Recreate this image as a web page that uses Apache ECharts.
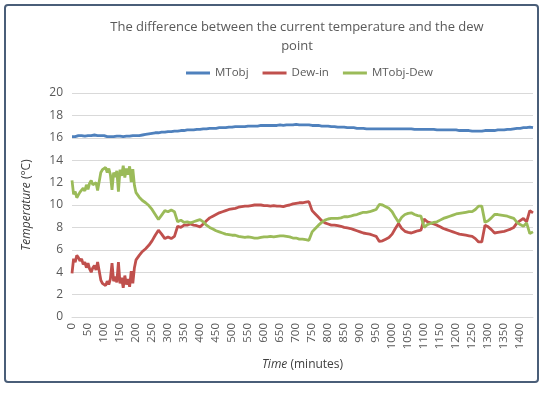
<!DOCTYPE html>
<html><head><meta charset="utf-8">
<script src="https://cdn.jsdelivr.net/npm/echarts@6/dist/echarts.min.js"></script>
<style>html,body{margin:0;padding:0;background:#fff}#c{width:550px;height:394px}</style>
</head><body><div id="c"></div>
<script>
var minutes = [0,5,10,15,20,25,30,35,40,45,50,55,60,65,70,75,80,85,90,95,100,105,110,115,120,125,130,135,140,145,150,155,160,165,170,175,180,185,190,195,200,
210,220,230,240,250,260,270,280,290,300,310,320,330,340,350,360,370,380,390,400,410,420,430,440,450,460,470,480,490,500,
510,520,530,540,550,560,570,580,590,600,610,620,630,640,650,660,670,680,690,700,710,720,730,740,750,760,770,780,790,800,
810,820,830,840,850,860,870,880,890,900,910,920,930,940,950,960,970,980,990,1000,1010,1020,1030,1040,1050,1060,1070,1080,1090,1100,
1110,1120,1130,1140,1150,1160,1170,1180,1190,1200,1210,1220,1230,1240,1250,1260,1270,1280,1290,1300,1310,1320,1330,1340,1350,1360,1370,1380,1390,1400,1410,1420,1430,1440];

var mtobj = [16.1,16.15,16.1,16.15,16.2,16.15,16.2,16.2,16.15,16.2,16.2,16.25,16.2,16.2,16.25,16.2,16.2,16.25,16.2,16.15,16.2,16.15,16.1,16.15,16.1,16.15,16.1,16.1,16.15,16.1,16.15,16.1,16.1,16.15,16.15,16.1,16.15,16.15,16.2,16.15,16.2,
16.2,16.25,16.3,16.35,16.4,16.45,16.45,16.5,16.5,16.55,16.55,16.6,16.6,16.65,16.65,16.7,16.7,16.7,16.75,16.75,16.8,16.8,16.85,16.85,16.85,16.9,16.9,16.9,16.95,16.95,
17.0,17.0,17.0,17.0,17.05,17.05,17.05,17.05,17.1,17.1,17.1,17.1,17.1,17.1,17.15,17.1,17.15,17.15,17.15,17.2,17.15,17.15,17.15,17.15,17.1,17.1,17.1,17.05,17.05,17.05,
17.0,17.0,16.95,16.95,16.95,16.9,16.9,16.9,16.85,16.85,16.85,16.8,16.8,16.8,16.8,16.8,16.8,16.8,16.8,16.8,16.8,16.8,16.8,16.8,16.8,16.8,16.75,16.75,16.75,16.75,
16.75,16.75,16.75,16.7,16.7,16.7,16.7,16.7,16.7,16.7,16.65,16.65,16.65,16.65,16.6,16.6,16.6,16.6,16.65,16.65,16.65,16.65,16.7,16.7,16.7,16.75,16.75,16.8,16.85,16.85,16.9,16.9,16.95,16.9];

var dewIn = [3.9,5.2,4.9,5.5,5.3,5.0,5.2,4.7,4.9,4.4,4.8,4.3,4.0,4.4,4.6,4.2,4.9,5.0,3.3,3.0,3.1,2.8,3.2,2.9,3.4,4.8,3.2,3.6,3.1,4.9,3.0,3.5,2.6,3.7,2.9,3.4,2.7,4.1,3.0,4.4,5.1,
5.5,5.85,6.1,6.4,6.8,7.3,7.75,7.4,7.0,7.15,7.0,7.2,8.1,8.0,8.2,8.2,8.3,8.2,8.15,8.05,8.3,8.6,8.85,9.0,9.15,9.3,9.4,9.5,9.6,9.65,
9.7,9.8,9.85,9.9,9.9,9.95,10.0,10.0,10.0,9.95,9.95,9.9,9.95,9.9,9.9,9.85,9.95,10.0,10.1,10.15,10.2,10.2,10.25,10.3,9.5,9.2,8.9,8.6,8.4,8.3,
8.2,8.2,8.15,8.1,8.0,7.95,7.9,7.8,7.7,7.6,7.5,7.45,7.4,7.3,7.2,6.75,6.8,6.95,7.1,7.4,7.9,8.35,7.9,7.65,7.55,7.5,7.6,7.7,7.75,8.75,
8.5,8.4,8.3,8.2,8.05,7.9,7.8,7.7,7.6,7.5,7.4,7.35,7.3,7.25,7.2,7.0,6.7,6.7,8.2,8.05,7.8,7.5,7.55,7.6,7.65,7.75,7.85,8.0,8.4,8.6,8.8,8.5,9.5,9.3];

var mtobjDew = [12.2,10.95,11.2,10.65,10.9,11.15,11.0,11.5,11.25,11.8,11.4,11.95,12.2,11.8,11.65,12.0,11.3,11.25,12.9,13.15,13.1,13.35,12.9,13.25,12.7,11.35,12.9,12.5,13.05,11.2,13.15,12.6,13.5,12.45,13.25,12.7,13.45,12.05,13.2,11.75,11.1,
10.7,10.4,10.2,9.95,9.6,9.15,8.7,9.1,9.5,9.4,9.55,9.4,8.5,8.65,8.45,8.5,8.4,8.5,8.6,8.7,8.5,8.2,8.0,7.85,7.7,7.6,7.5,7.4,7.35,7.3,
7.3,7.2,7.15,7.1,7.15,7.1,7.05,7.05,7.1,7.15,7.15,7.2,7.15,7.2,7.25,7.25,7.2,7.15,7.05,7.05,6.95,6.95,6.9,6.85,7.6,7.9,8.2,8.45,8.65,8.75,
8.8,8.8,8.8,8.85,8.95,8.95,9.0,9.1,9.15,9.25,9.35,9.35,9.4,9.5,9.6,10.05,10.0,9.85,9.7,9.4,8.9,8.45,8.9,9.15,9.25,9.3,9.15,9.05,9.0,8.0,
8.25,8.35,8.45,8.5,8.65,8.8,8.9,9.0,9.1,9.2,9.25,9.3,9.35,9.4,9.4,9.6,9.9,9.9,8.45,8.6,8.85,9.15,9.15,9.1,9.05,9.0,8.9,8.8,8.45,8.25,8.1,8.4,7.45,7.6];

var seriesNames = ['MTobj','Dew-in','MTobj-Dew'];
var seriesColors = ['#4f81bd','#c0504d','#9bbb59'];
var titleText = 'The difference between the current temperature and the dew\npoint';

function pairs(arr){ return minutes.map(function(m,i){ return [m, arr[i]]; }); }
var values = [mtobj, dewIn, mtobjDew];

var chart = echarts.init(document.getElementById('c'), null, {renderer:'canvas'});
var font = "'Open Sans', 'Liberation Sans', sans-serif";
var grey = '#595959';
chart.setOption({
  animation:false,
  backgroundColor:'#fff',
  graphic:[{type:'rect', shape:{x:5,y:5,width:533,height:377,r:3}, style:{fill:'none',stroke:'#4a5e78',lineWidth:2}}],
  title:{text:titleText, left:292, top:13, textAlign:'center',
    textStyle:{fontFamily:font,fontSize:13,fontWeight:'normal',color:grey,lineHeight:19}},
  legend:{data:seriesNames, top:62, left:181, itemWidth:24, itemHeight:3, itemGap:14, icon:'rect',
    textStyle:{fontFamily:font,fontSize:11.5,color:grey}},
  grid:{left:72, right:17, top:93, bottom:77, containLabel:false},
  xAxis:{type:'value', min:0, max:1440, interval:50,
    name:'{i|Time} (minutes)', nameLocation:'middle', nameGap:42,
    nameTextStyle:{fontFamily:font,fontSize:12,color:'#404040', rich:{i:{fontStyle:'italic',fontFamily:font,fontSize:12,color:'#404040'}}},
    axisLine:{lineStyle:{color:'#d9d9d9'}}, axisTick:{show:false}, splitLine:{show:false},
    axisLabel:{rotate:90, fontFamily:font, fontSize:11.5, color:grey, margin:6,
      formatter:function(v){ return v%50===0 ? String(v) : ''; }}},
  yAxis:{type:'value', min:0, max:20, interval:2,
    name:'{i|Temperature} (°C)', nameLocation:'middle', nameGap:39, nameRotate:90,
    nameTextStyle:{fontFamily:font,fontSize:12,color:'#404040', rich:{i:{fontStyle:'italic',fontFamily:font,fontSize:12,color:'#404040'}}},
    axisLine:{show:false}, axisTick:{show:false},
    splitLine:{lineStyle:{color:'#d9d9d9'}},
    axisLabel:{fontFamily:font, fontSize:12, color:grey, margin:9}},
  series: seriesNames.map(function(n,k){ return {name:n, type:'line', data:pairs(values[k]), showSymbol:false, symbol:'none',
    lineStyle:{color:seriesColors[k], width:2.8}, itemStyle:{color:seriesColors[k]}}; })
});
</script></body></html>
